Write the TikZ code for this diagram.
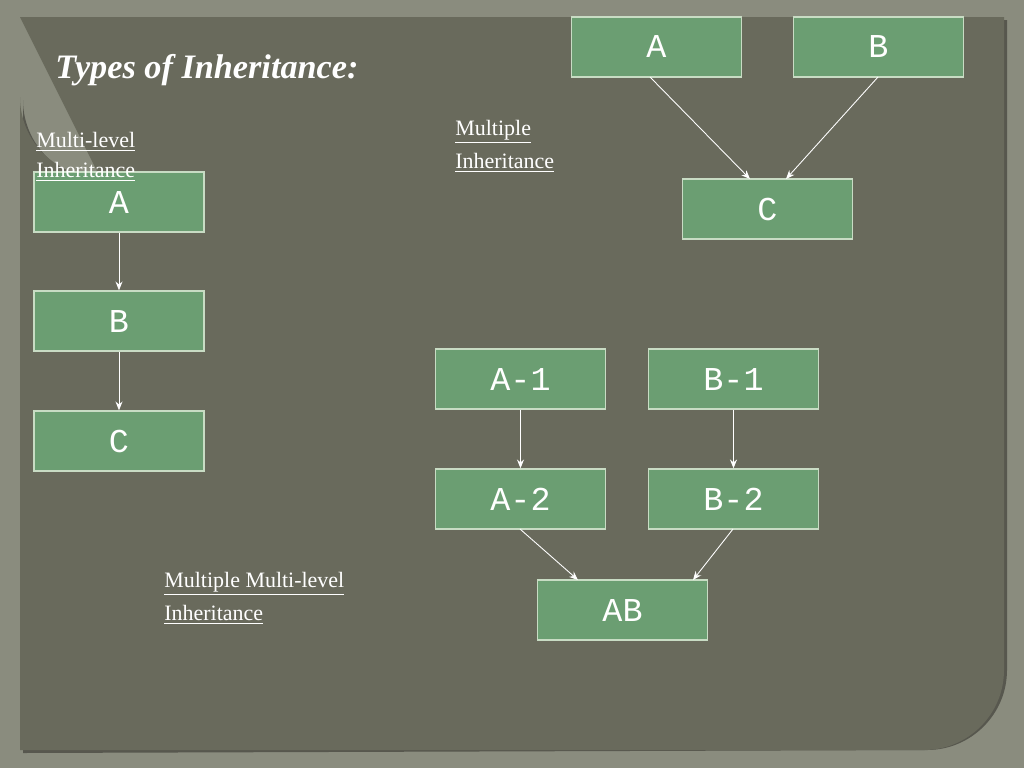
\documentclass[tikz,border=0pt]{standalone}
\usepackage{fontspec}
\setmainfont{Liberation Serif}
\newfontfamily\boxfont{Liberation Mono}
\usetikzlibrary{arrows.meta}
\definecolor{outerbg}{HTML}{8A8C7E}
\definecolor{panel}{HTML}{696A5C}
\definecolor{boxfill}{HTML}{6B9E72}
\definecolor{boxline}{HTML}{C8DCC4}
\tikzset{
  cls/.style={draw=boxline, line width=0.8pt, fill=boxfill, minimum width=170*0.02cm, minimum height=60*0.02cm, inner sep=0pt, text=white, font=\boxfont\fontsize{19}{19}\selectfont},
  lbl/.style={text=white, anchor=west, inner sep=0pt, font=\fontsize{12.5}{17.6}\selectfont},
  arr/.style={draw=white, line width=0.5pt, -{Stealth[length=5pt,width=4pt]}}
}
\begin{document}
\begin{tikzpicture}[x=0.02cm,y=-0.02cm]
\fill[outerbg] (0,0) rectangle (1024,768);
\fill[black!50!panel, opacity=0.6] (23,20) -- (920,20) -- (1007,20) -- (1007,670) arc[start angle=0,end angle=90,radius=80] -- (23,753) -- (23,100) arc[start angle=180,end angle=90,radius=80] -- cycle;
\fill[panel] (20,17) -- (1004,17) -- (1004,670) arc[start angle=0,end angle=90,radius=80] -- (20,750) -- (20,97) arc[start angle=180,end angle=90,radius=80] -- cycle;
\node[text=white, anchor=west, inner sep=0pt, font=\bfseries\itshape\fontsize{19.5}{20}\selectfont] (title) at (55,70) {Types of Inheritance:};
% multi-level
\node[cls] (mA) at (119,202) {A};
\node[cls] (mB) at (119,321) {B};
\node[cls] (mC) at (119,441) {C};
\node[lbl] (l1a) at (36,142) {\underline{Multi-level}};
\node[lbl] (l1b) at (36,172) {\underline{Inheritance}};
\draw[arr] (mA) -- (mB);
\draw[arr] (mB) -- (mC);
% multiple
\node[cls] (pA) at (656.5,47) {A};
\node[cls] (pB) at (878.5,47) {B};
\node[cls] (pC) at (767.5,209) {C};
\node[lbl] (l2a) at (455,132) {\underline{Multiple}};
\node[lbl] (l2b) at (455,163) {\underline{Inheritance}};
\coordinate (pAo) at (650,77); \coordinate (pAi) at (750,179);
\coordinate (pBo) at (878,77); \coordinate (pBi) at (786,179);
\draw[arr] (pAo) -- (pAi);
\draw[arr] (pBo) -- (pBi);
% multiple multi-level
\node[cls] (a1) at (520.5,379) {A-1};
\node[cls] (b1) at (733.5,379) {B-1};
\node[cls] (a2) at (520.5,499) {A-2};
\node[cls] (b2) at (733.5,499) {B-2};
\node[cls] (ab) at (622.5,610) {AB};
\draw[arr] (a1) -- (a2);
\draw[arr] (b1) -- (b2);
\coordinate (a2o) at (520,529); \coordinate (abi1) at (578,580);
\coordinate (b2o) at (733,529); \coordinate (abi2) at (693,580);
\draw[arr] (a2o) -- (abi1);
\draw[arr] (b2o) -- (abi2);
\node[lbl] (l3a) at (164,584) {\underline{Multiple Multi-level}};
\node[lbl] (l3b) at (164,615) {\underline{Inheritance}};
\end{tikzpicture}
\end{document}
